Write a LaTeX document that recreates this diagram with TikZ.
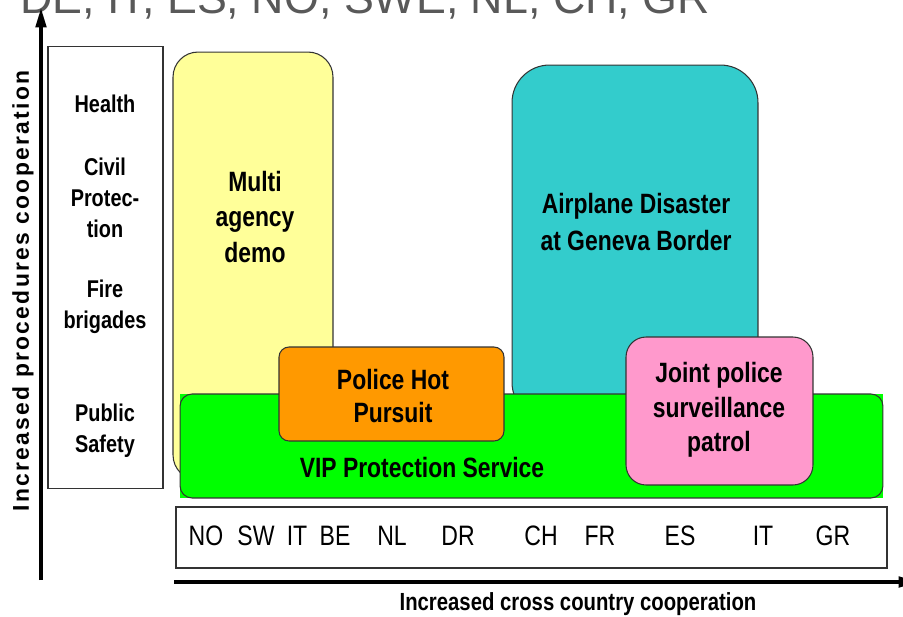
\documentclass[tikz,border=0pt]{standalone}
\usepackage{fontspec}
\setmainfont{Liberation Sans}
\newfontfamily\narrowfont[FakeStretch=0.82]{Liberation Sans}
\newfontfamily\spacedfont[LetterSpace=10]{Liberation Sans}
\usetikzlibrary{positioning}
\usetikzlibrary{arrows.meta}
\definecolor{demoyellow}{HTML}{FFFF99}
\definecolor{crashteal}{HTML}{33CCCC}
\definecolor{vipgreen}{HTML}{00FF00}
\definecolor{pursuitorange}{HTML}{FF9900}
\definecolor{patrolpink}{HTML}{FF99CC}
\definecolor{headgray}{HTML}{595959}
\tikzset {
  x=0.02cm, y=-0.02cm,
  % coloured areas of the chart
  area/.style = {draw=black!80, line width=0.6pt, inner sep=0pt},
  % bold text in the areas
  tag/.style = {align=center, inner sep=0pt,
    font={\narrowfont\bfseries\fontsize{15.9}{20}\selectfont}},
  % service names in the left column
  service/.style = {align=center, inner sep=0pt,
    font={\narrowfont\bfseries\fontsize{13.8}{17.6}\selectfont}},
  country/.style = {inner sep=0pt, font={\narrowfont\fontsize{16}{19}\selectfont}},
  axis/.style = {line width=1.8pt, -{Triangle[length=11pt, width=6pt]}},
}

\begin{document}
\begin{tikzpicture}
  \useasboundingbox (0,0) rectangle (903,616);
  \clip (0,0) rectangle (903,616);

  % heading, cut off by the top edge
  \node[anchor=base west, inner sep=0pt, text=headgray,
    font={\fontsize{25.5}{30}\selectfont}] (head) at (20,13)
    {DE, IT, ES, NO, SWE, NL, CH, GR};

  % left column of services
  \node[area, minimum width=2.3cm, minimum height=8.86cm] (services) at (105.5,267.5) {};
  \node[service] (health) at (105,104) {Health};
  \node[service] (civil) at (105,198) {Civil\\Protec-\\tion};
  \node[service] (fire) at (105,307) {Fire\\brigades};
  \node[service] (public) at (105,431) {Public\\Safety};

  % areas
  \node[area, fill=demoyellow, rounded corners=0.5cm,
    minimum width=3.2cm, minimum height=8.56cm] (demo) at (253,266) {};
  \node[area, fill=crashteal, rounded corners=0.75cm,
    minimum width=4.92cm, minimum height=7.1cm] (crash) at (635,242.5) {};
  \fill[vipgreen] (180,394) rectangle (883,498);
  \node[area, fill=vipgreen, rounded corners=0.24cm,
    minimum width=14.06cm, minimum height=2.08cm] (vip) at (531.5,446) {};
  \node[area, fill=pursuitorange, rounded corners=0.2cm,
    minimum width=4.5cm, minimum height=1.88cm] (pursuit) at (391.5,394) {};
  \node[area, fill=patrolpink, rounded corners=0.4cm,
    minimum width=3.74cm, minimum height=2.96cm] (patrol) at (719.5,411) {};

  \node[tag] (demo-text) at (255,217) {Multi\\agency\\demo};
  \node[tag, font={\narrowfont\bfseries\fontsize{15.9}{20.5}\selectfont}]
    (crash-text) at (636,222) {Airplane Disaster\\at Geneva Border};
  \node[tag] (vip-text) at (422,468) {VIP Protection Service};
  \node[tag, font={\narrowfont\bfseries\fontsize{15.9}{19}\selectfont}]
    (pursuit-text) at (393,396) {Police Hot\\Pursuit};
  \node[tag, font={\narrowfont\bfseries\fontsize{15.9}{19.5}\selectfont}]
    (patrol-text) at (719,410) {Joint police\\surveillance\\patrol};

  % countries
  \node[area, line width=1pt, fill=white, minimum width=14.22cm, minimum height=1.22cm]
    (countries) at (531.5,537.5) {};
  \foreach \name/\xpos in {NO/206, SW/256, IT/297, BE/335, NL/392,
                           DR/458, CH/541, FR/600, ES/680, IT/763, GR/833}
    \node[country] (c-\xpos) at (\xpos,536) {\name};

  % axes
  \coordinate (ybot) at (41,580);
  \coordinate (ytop) at (41,8);
  \coordinate (xleft) at (174,582);
  \coordinate (xright) at (918,582);
  \draw[axis] (ybot) -- (ytop);
  \draw[axis] (xleft) -- (xright);

  \node[rotate=90, inner sep=0pt, font={\spacedfont\bfseries\fontsize{13}{15}\selectfont}]
    (ylabel) at (23,291) {Increased procedures cooperation};
  \node[inner sep=0pt, font={\narrowfont\bfseries\fontsize{14.1}{17}\selectfont}]
    (xlabel) at (578,604) {Increased cross country cooperation};
\end{tikzpicture}
\end{document}
